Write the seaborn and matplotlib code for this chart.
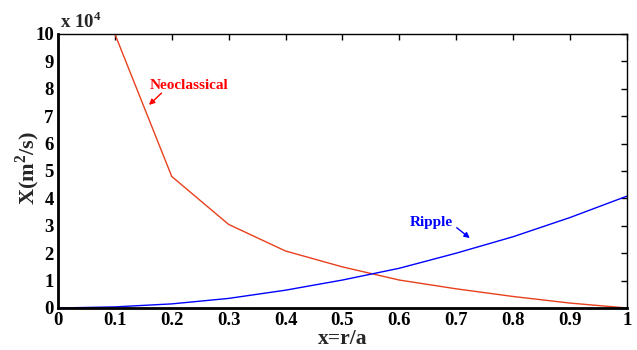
import matplotlib
matplotlib.use("Agg")
import matplotlib.pyplot as plt
import seaborn as sns
import pandas as pd

x_neo = [0.1, 0.2, 0.3, 0.4, 0.5, 0.6, 0.7, 0.8, 0.9, 1.0]
neoclassical = [10.0, 4.8, 3.05, 2.08, 1.5, 1.02, 0.70, 0.42, 0.18, 0.0]
x_rip = [0.0, 0.1, 0.2, 0.3, 0.4, 0.5, 0.6, 0.7, 0.8, 0.9, 1.0]
ripple = [0.0, 0.04, 0.15, 0.35, 0.65, 1.02, 1.45, 2.0, 2.6, 3.3, 4.08]
xticks = [0, 0.1, 0.2, 0.3, 0.4, 0.5, 0.6, 0.7, 0.8, 0.9, 1]
xticklabels = ["0", "0.1", "0.2", "0.3", "0.4", "0.5", "0.6", "0.7", "0.8", "0.9", "1"]
yticks = list(range(0, 11))

sns.set_theme(style="white")
plt.rcParams['font.family'] = ['Liberation Serif', 'DejaVu Serif']
plt.rcParams['font.weight'] = 'bold'
plt.rcParams['mathtext.fontset'] = 'custom'
plt.rcParams['mathtext.rm'] = 'Liberation Serif:bold'
plt.rcParams['mathtext.bf'] = 'Liberation Serif:bold'

fig = plt.figure(figsize=(6.37, 3.5), dpi=100)
ax = fig.add_axes([0.091, 0.12, 0.893, 0.783])

df_neo = pd.DataFrame({"x": x_neo, "y": neoclassical})
df_rip = pd.DataFrame({"x": x_rip, "y": ripple})
sns.lineplot(data=df_neo, x="x", y="y", ax=ax, color="#e8401c", linewidth=1.0)
sns.lineplot(data=df_rip, x="x", y="y", ax=ax, color="#0000ff", linewidth=1.0)

ax.set_xlim(0, 1)
ax.set_ylim(0, 10)
ax.set_xticks(xticks)
ax.set_xticklabels(xticklabels)
ax.set_yticks(yticks)
ax.tick_params(direction="in", length=4, width=1, top=True, right=True,
               labelsize=13.5, pad=3, colors="black")
for lab in ax.get_xticklabels() + ax.get_yticklabels():
    lab.set_fontweight("bold")
for s in ["left", "bottom"]:
    ax.spines[s].set_linewidth(2.0)
for s in ["top", "right"]:
    ax.spines[s].set_linewidth(1.0)
for s in ax.spines.values():
    s.set_color("black")

ax.set_xlabel("x=r/a", fontsize=15.5, fontweight="bold", labelpad=0)
ax.set_ylabel(r"X(m$^2$/s)", fontsize=16, fontweight="bold")
ax.yaxis.set_label_coords(-0.028, 0.51)

fig.text(0.094, 1 - 28 / 350, r"x 10$^4$", fontsize=13.5, fontweight="bold",
         ha="left", va="baseline")

ax.text(0.162, 8.0, "Neoclassical", color="#ff0000", fontsize=11,
        fontweight="bold", ha="left", va="baseline")
ax.annotate("", xy=(0.160, 7.41), xytext=(0.182, 7.84),
            arrowprops=dict(arrowstyle="-|>", color="#ff0000", lw=1, mutation_scale=8,
                            shrinkA=0, shrinkB=0))
ax.text(0.619, 3.0, "Ripple", color="#0000ff", fontsize=11,
        fontweight="bold", ha="left", va="baseline")
ax.annotate("", xy=(0.724, 2.55), xytext=(0.701, 2.93),
            arrowprops=dict(arrowstyle="-|>", color="#0000ff", lw=1, mutation_scale=8,
                            shrinkA=0, shrinkB=0))

fig.savefig("out.png", dpi=100)
